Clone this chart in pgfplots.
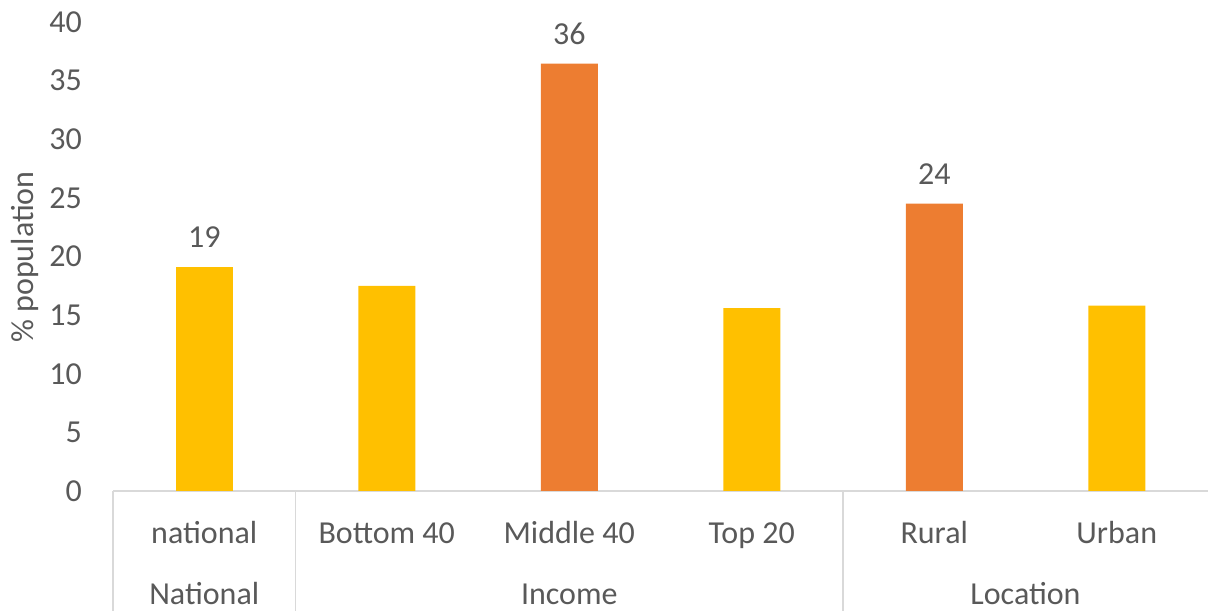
\documentclass[border=0pt]{standalone}
\usepackage{pgfplots}
\pgfplotsset{compat=1.18}
\usepackage{fontspec}
\setmainfont{Carlito}
\definecolor{barY}{HTML}{FFC000}
\definecolor{barO}{HTML}{ED7D31}
\definecolor{txt}{HTML}{595959}
\definecolor{axl}{HTML}{D9D9D9}
\begin{document}
\begin{tikzpicture}
\useasboundingbox (0,0) rectangle (906pt,458.25pt);
\begin{axis}[
  at={(84.75pt,90pt)}, anchor=south west,
  scale only axis, width=821.25pt, height=351.75pt,
  xmin=-0.5, xmax=5.5, ymin=0, ymax=40,
  ytick={0,5,...,40},
  xtick={0,1,2,3,4,5},
  xticklabels={national,Bottom 40,Middle 40,Top 20,Rural,Urban},
  major tick length=0pt,
  axis lines*=left,
  x axis line style={draw=axl, line width=1pt, -},
  y axis line style={draw=none},
  ybar, bar width=42.75pt,
  /pgf/number format/assume math mode=true,
  tick label style={font=\fontsize{24}{28}\selectfont, text=txt},
  xticklabel style={anchor=base, inner sep=0pt, yshift=-39pt},
  yticklabel style={anchor=east, inner sep=0pt, xshift=-23.25pt},
  clip=false,
  point meta=explicit symbolic,
  nodes near coords,
  nodes near coords style={anchor=center, yshift=22.5pt, font=\fontsize{24}{28}\selectfont, text=txt},
]
\addplot[fill=barY, draw=none, bar shift=0pt] coordinates {(0,19.1) [19]};
\addplot[fill=barY, draw=none, bar shift=0pt, nodes near coords={}] coordinates {(1,17.5) [] (3,15.6) [] (5,15.8) []};
\addplot[fill=barO, draw=none, bar shift=0pt] coordinates {(2,36.45) [36] (4,24.5) [24]};
\draw[axl, line width=1pt] (axis cs:-0.5,0) -- ([yshift=-90pt]axis cs:-0.5,0);
\draw[axl, line width=1pt] (axis cs:0.5,0) -- ([yshift=-90pt]axis cs:0.5,0);
\draw[axl, line width=1pt] (axis cs:3.5,0) -- ([yshift=-90pt]axis cs:3.5,0);
\node[anchor=base, inner sep=0pt, font=\fontsize{24}{28}\selectfont, text=txt] at ([yshift=-84.75pt]axis cs:0,0) {National};
\node[anchor=base, inner sep=0pt, font=\fontsize{24}{28}\selectfont, text=txt] at ([yshift=-84.75pt]axis cs:2,0) {Income};
\node[anchor=base, inner sep=0pt, font=\fontsize{24}{28}\selectfont, text=txt] at ([yshift=-84.75pt]axis cs:4.5,0) {Location};
\end{axis}
\node[rotate=90, font=\fontsize{24}{28}\selectfont, text=txt] at (18.75pt,265.5pt) {\% population};
\end{tikzpicture}
\end{document}
